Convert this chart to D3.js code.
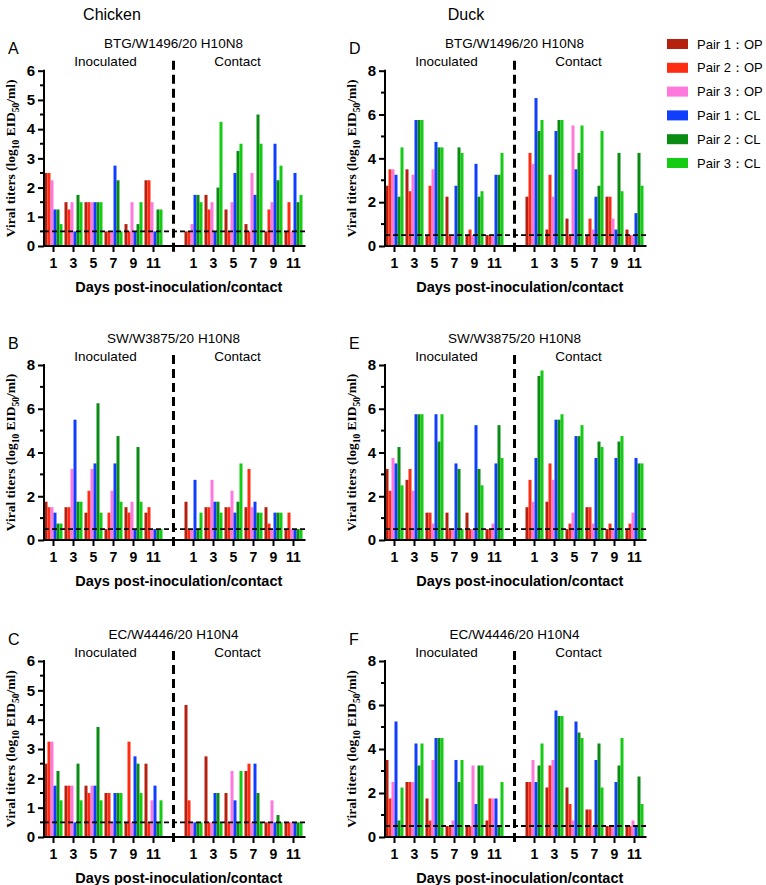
<!DOCTYPE html>
<html>
<head>
<meta charset="utf-8">
<script src="https://cdn.jsdelivr.net/npm/d3@7"></script>
<style>
body { margin: 0; background: #fff; }
svg { display: block; }
</style>
</head>
<body>
<div id="chart"></div>
<script>
// time points and series
var days = [1, 3, 5, 7, 9, 11];
var groups = ["Inoculated", "Contact"];
var seriesNames = ["Pair 1：OP", "Pair 2：OP", "Pair 3：OP", "Pair 1：CL", "Pair 2：CL", "Pair 3：CL"];
var seriesColors = ["#B5200F", "#FF2C12", "#FF78DC", "#0F3EFF", "#0A8C14", "#14CC14"];
var detectionLimit = 0.5;

// rows = days 1..11, columns = series (P1 OP, P2 OP, P3 OP, P1 CL, P2 CL, P3 CL)
var A_inoc = [
	[2.5, 2.5, 2.25, 1.25, 1.25, 0.75],
	[1.5, 1.25, 1.5, 0.5, 1.75, 1.5],
	[1.5, 1.5, 1.5, 1.5, 1.5, 1.5],
	[0.5, 0.5, 0.5, 2.75, 2.25, 0.5],
	[0.75, 0.5, 1.5, 0.5, 0.75, 1.5],
	[2.25, 2.25, 1.5, 0.5, 1.25, 1.25]
];
var A_contact = [
	[0.5, 0.5, 0.75, 1.75, 1.75, 1.5],
	[1.75, 1.25, 1.5, 0.5, 2.0, 4.25],
	[1.25, 0.5, 1.5, 2.5, 3.25, 3.5],
	[0.75, 0.5, 2.5, 1.75, 4.5, 3.5],
	[0.5, 1.25, 1.5, 3.5, 2.25, 2.75],
	[0.5, 1.5, 0.5, 2.5, 1.5, 1.75]
];
var B_inoc = [
	[1.75, 1.5, 1.5, 1.25, 0.75, 0.75],
	[1.5, 1.5, 3.25, 5.5, 1.75, 1.75],
	[1.25, 2.25, 3.25, 3.5, 6.25, 1.25],
	[0.5, 1.25, 2.25, 3.5, 4.75, 1.75],
	[1.5, 1.25, 1.75, 0.5, 4.25, 1.75],
	[1.25, 1.5, 0.5, 0.5, 0.5, 0.5]
];
var B_contact = [
	[1.75, 0.5, 0.5, 2.75, 0.5, 1.25],
	[1.5, 1.5, 2.75, 1.75, 1.75, 1.25],
	[1.5, 1.5, 2.25, 1.25, 1.75, 3.5],
	[1.5, 3.25, 1.5, 1.75, 1.25, 1.25],
	[1.5, 0.75, 0.5, 1.25, 1.25, 1.25],
	[0.5, 1.25, 0.5, 0.5, 0.5, 0.5]
];
var C_inoc = [
	[2.5, 3.25, 3.25, 1.75, 2.25, 1.25],
	[1.75, 1.75, 1.75, 0.5, 2.5, 1.25],
	[1.75, 1.5, 1.75, 1.75, 3.75, 1.25],
	[1.5, 1.5, 0.5, 1.5, 1.5, 1.5],
	[0.5, 3.25, 0.5, 2.75, 2.5, 1.5],
	[2.5, 0.5, 1.25, 1.75, 0.5, 1.25]
];
var C_contact = [
	[4.5, 1.25, 0.5, 0.5, 0.5, 0.5],
	[2.75, 0.5, 0.5, 1.5, 1.5, 0.5],
	[1.5, 0.5, 2.25, 1.25, 0.5, 2.25],
	[2.25, 2.5, 0.5, 2.5, 1.5, 0.5],
	[0.5, 0.5, 1.25, 0.5, 0.75, 0.5],
	[0.5, 0.5, 0.5, 0.5, 0.5, 0.5]
];
var D_inoc = [
	[2.75, 3.5, 3.5, 3.25, 2.25, 4.5],
	[3.5, 2.5, 3.25, 5.75, 5.75, 5.75],
	[0.5, 2.75, 3.5, 4.75, 4.5, 4.5],
	[2.25, 0.5, 0.5, 2.75, 4.5, 4.25],
	[0.5, 0.75, 0.5, 3.75, 2.25, 2.5],
	[0.5, 0.5, 0.5, 3.25, 3.25, 4.25]
];
var D_contact = [
	[2.25, 4.25, 3.75, 6.75, 5.25, 5.75],
	[0.75, 3.25, 2.25, 5.25, 5.75, 5.75],
	[1.25, 0.5, 5.5, 3.5, 4.25, 5.5],
	[0.5, 1.25, 0.75, 2.25, 2.75, 5.25],
	[2.25, 2.25, 1.25, 0.75, 4.25, 2.5],
	[0.75, 0.5, 0.5, 1.5, 4.25, 2.75]
];
var E_inoc = [
	[3.25, 2.25, 3.75, 3.5, 4.25, 2.5],
	[2.75, 3.25, 2.25, 5.75, 5.75, 5.75],
	[1.25, 1.25, 0.75, 5.75, 4.5, 5.75],
	[1.25, 0.5, 0.5, 3.5, 3.25, 0.5],
	[1.25, 0.5, 0.5, 5.25, 3.25, 2.5],
	[0.5, 0.5, 0.75, 3.5, 5.25, 3.75]
];
var E_contact = [
	[1.5, 2.75, 1.75, 3.75, 7.5, 7.75],
	[1.75, 3.5, 2.75, 5.5, 5.5, 5.75],
	[0.5, 0.75, 1.25, 4.75, 4.75, 5.25],
	[1.5, 1.5, 0.75, 3.75, 4.5, 4.25],
	[0.5, 0.75, 0.5, 3.75, 4.5, 4.75],
	[0.5, 0.75, 1.25, 3.75, 3.5, 3.5]
];
var F_inoc = [
	[3.5, 1.75, 2.5, 5.25, 0.75, 2.25],
	[2.5, 2.5, 2.5, 4.25, 3.25, 4.25],
	[1.75, 0.75, 3.5, 4.5, 4.5, 4.5],
	[0.5, 0.5, 0.75, 3.5, 2.5, 3.5],
	[0.5, 0.5, 3.25, 1.5, 3.25, 3.25],
	[0.75, 1.75, 1.75, 1.75, 0.5, 2.5]
];
var F_contact = [
	[2.5, 2.5, 3.5, 2.5, 3.25, 4.25],
	[2.25, 3.25, 3.5, 5.75, 5.5, 5.5],
	[2.25, 1.5, 0.75, 5.25, 4.75, 4.5],
	[1.25, 1.25, 0.5, 3.5, 4.25, 2.25],
	[0.5, 0.5, 0.5, 2.5, 3.25, 4.5],
	[0.5, 0.5, 0.75, 0.5, 2.75, 1.5]
];

var panels = [
	{ letter: "A", title: "BTG/W1496/20 H10N8", data: [A_inoc, A_contact], ymax: 6, step: 1, col: 0, row: 0 },
	{ letter: "B", title: "SW/W3875/20 H10N8", data: [B_inoc, B_contact], ymax: 8, step: 2, col: 0, row: 1 },
	{ letter: "C", title: "EC/W4446/20 H10N4", data: [C_inoc, C_contact], ymax: 6, step: 1, col: 0, row: 2 },
	{ letter: "D", title: "BTG/W1496/20 H10N8", data: [D_inoc, D_contact], ymax: 8, step: 2, col: 1, row: 0 },
	{ letter: "E", title: "SW/W3875/20 H10N8", data: [E_inoc, E_contact], ymax: 8, step: 2, col: 1, row: 1 },
	{ letter: "F", title: "EC/W4446/20 H10N4", data: [F_inoc, F_contact], ymax: 8, step: 2, col: 1, row: 2 }
];

var width = 766, height = 885;
var colX = [44, 385];
var rowTop = [70.7, 365, 661];
var rowBottom = [246, 540, 837];
var slotW = 20;

var svg = d3.select("#chart").append("svg")
	.attr("width", width)
	.attr("height", height)
	.style("font-family", "Arial, 'Liberation Sans', sans-serif");

// slots: 6 inoculated days, a gap, 6 contact days
var slots = days.map(function(d) { return "i" + d; })
	.concat(["gap"])
	.concat(days.map(function(d) { return "c" + d; }));

// species headers
svg.append("text").attr("x", 112).attr("y", 14).attr("text-anchor", "middle")
	.attr("dy", ".35em").style("font-size", "16px").text("Chicken");
svg.append("text").attr("x", 466).attr("y", 14).attr("text-anchor", "middle")
	.attr("dy", ".35em").style("font-size", "16px").text("Duck");

panels.forEach(function(p) {
	var x0 = colX[p.col],
	    top = rowTop[p.row],
	    bottom = rowBottom[p.row];

	var x = d3.scaleBand()
	    .domain(slots)
	    .range([x0 - 0.5, x0 - 0.5 + slots.length * slotW]);

	var inner = d3.scaleBand()
	    .domain(d3.range(seriesNames.length))
	    .range([1, slotW - 1]);

	var y = d3.scaleLinear()
	    .domain([0, p.ymax])
	    .range([bottom, top]);

	var g = svg.append("g");

	// bars
	p.data.forEach(function(rows, gi) {
		var prefix = gi === 0 ? "i" : "c";
		rows.forEach(function(vals, di) {
			g.selectAll(null)
			    .data(vals)
			    .enter().append("rect")
			    .attr("x", function(d, s) { return x(prefix + days[di]) + inner(s); })
			    .attr("y", function(d) { return y(d); })
			    .attr("width", inner.bandwidth())
			    .attr("height", function(d) { return y(0) - y(d); })
			    .style("fill", function(d, s) { return seriesColors[s]; });
		});
	});

	var xEnd = x.range()[1] + 2;
	var gapX = x("gap") + x.bandwidth() / 2;

	// detection limit
	g.append("line")
	    .attr("x1", x0).attr("x2", xEnd + 2)
	    .attr("y1", y(detectionLimit)).attr("y2", y(detectionLimit))
	    .attr("stroke", "#000").attr("stroke-width", 1.8)
	    .attr("stroke-dasharray", "5,3");

	// divider between inoculated and contact
	g.append("line")
	    .attr("x1", gapX).attr("x2", gapX)
	    .attr("y1", top - 10).attr("y2", bottom + 8)
	    .attr("stroke", "#000").attr("stroke-width", 3)
	    .attr("stroke-dasharray", "9,5");

	// y axis
	var yAxis = d3.axisLeft(y)
	    .tickValues(d3.range(0, p.ymax + 0.001, p.step))
	    .tickFormat(d3.format("d"))
	    .tickSize(6)
	    .tickPadding(3);
	var ya = g.append("g").attr("transform", "translate(" + x0 + ",0)").call(yAxis);
	ya.select(".domain").attr("stroke-width", 2).attr("d", "M0," + (top - 1) + "V" + bottom);
	ya.selectAll(".tick line").attr("stroke-width", 2);
	ya.selectAll("text").style("font-size", "15px").style("font-weight", "bold").attr("fill", "#000");
	g.append("g").selectAll("line")
	    .data(d3.range(p.step / 2, p.ymax, p.step))
	    .enter().append("line")
	    .attr("x1", x0 - 4).attr("x2", x0)
	    .attr("y1", function(d) { return y(d); })
	    .attr("y2", function(d) { return y(d); })
	    .attr("stroke", "#000").attr("stroke-width", 2);

	// x axis
	g.append("line")
	    .attr("x1", x0 - 1).attr("x2", xEnd)
	    .attr("y1", bottom).attr("y2", bottom)
	    .attr("stroke", "#000").attr("stroke-width", 2);
	var tickSlots = slots.filter(function(s) { return s !== "gap"; });
	g.selectAll(".xt")
	    .data(tickSlots)
	    .enter().append("line")
	    .attr("x1", function(d) { return x(d) + x.bandwidth() / 2; })
	    .attr("x2", function(d) { return x(d) + x.bandwidth() / 2; })
	    .attr("y1", bottom).attr("y2", bottom + 6)
	    .attr("stroke", "#000").attr("stroke-width", 2);
	g.selectAll(".xl")
	    .data(tickSlots)
	    .enter().append("text")
	    .attr("x", function(d) { return x(d) + x.bandwidth() / 2; })
	    .attr("y", bottom + 17)
	    .attr("dy", ".35em")
	    .attr("text-anchor", "middle")
	    .style("font-size", "14px").style("font-weight", "bold")
	    .text(function(d) { return d.slice(1); });

	// titles
	g.append("text")
	    .attr("x", gapX).attr("y", top - 27).attr("dy", ".35em")
	    .attr("text-anchor", "middle").style("font-size", "13.5px")
	    .text(p.title);
	g.append("text")
	    .attr("x", (x("i1") + x("i11") + x.bandwidth()) / 2 + 2).attr("y", top - 9).attr("dy", ".35em")
	    .attr("text-anchor", "middle").style("font-size", "13.5px")
	    .text(groups[0]);
	g.append("text")
	    .attr("x", (x("c1") + x("c11") + x.bandwidth()) / 2 - 6).attr("y", top - 9).attr("dy", ".35em")
	    .attr("text-anchor", "middle").style("font-size", "13.5px")
	    .text(groups[1]);
	g.append("text")
	    .attr("x", x0 - 36).attr("y", top - 22).attr("dy", ".35em")
	    .style("font-size", "16px")
	    .text(p.letter);

	// axis labels
	g.append("text")
	    .attr("x", (x0 + xEnd) / 2 + 4).attr("y", bottom + 41).attr("dy", ".35em")
	    .attr("text-anchor", "middle")
	    .style("font-size", "14.5px").style("font-weight", "bold")
	    .text("Days post-inoculation/contact");

	var yl = g.append("text")
	    .attr("transform", "translate(" + (x0 - 29) + "," + ((top + bottom) / 2) + ") rotate(-90)")
	    .attr("text-anchor", "middle")
	    .style("font-family", "'Liberation Serif', 'Times New Roman', serif")
	    .style("font-size", "13.5px").style("font-weight", "bold");
	yl.append("tspan").text("Viral titers (log");
	yl.append("tspan").attr("dy", 4).style("font-size", "9.5px").text("10");
	yl.append("tspan").attr("dy", -4).text(" EID");
	yl.append("tspan").attr("dy", 4).style("font-size", "9.5px").text("50");
	yl.append("tspan").attr("dy", -4).text("/ml)");
});

// legend
var legend = svg.append("g").attr("transform", "translate(667,44)");
var li = legend.selectAll("g")
    .data(seriesNames)
    .enter().append("g")
    .attr("transform", function(d, i) { return "translate(0," + (i * 23.8) + ")"; });
li.append("rect")
    .attr("x", 0).attr("y", -5)
    .attr("width", 21).attr("height", 10)
    .style("fill", function(d, i) { return seriesColors[i]; });
li.append("text")
    .attr("x", 30).attr("y", 0).attr("dy", ".35em")
    .style("font-size", "13px")
    .text(function(d) { return d; });
</script>
</body>
</html>
